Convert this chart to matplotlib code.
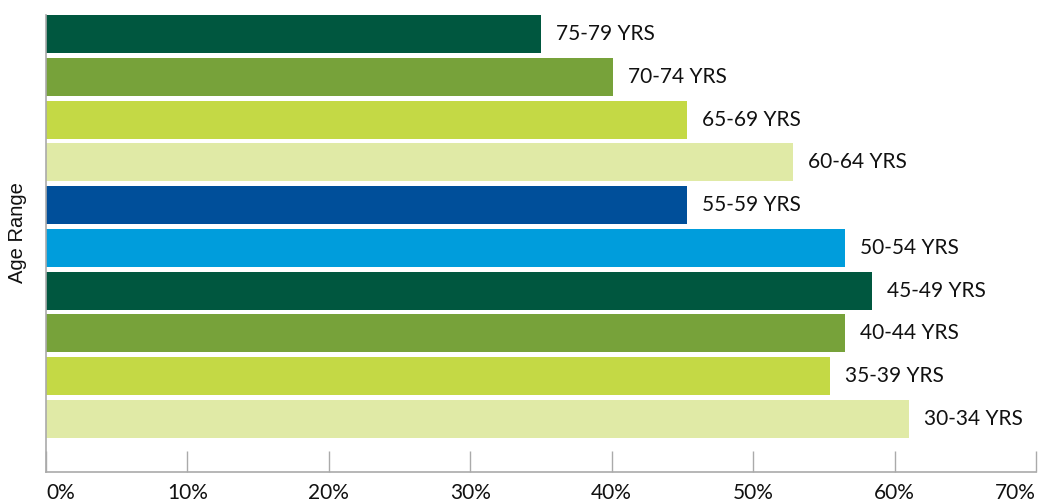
import matplotlib.pyplot as plt
import numpy as np

# age groups from bottom to top
ages = ['30-34 YRS', '35-39 YRS', '40-44 YRS', '45-49 YRS', '50-54 YRS',
        '55-59 YRS', '60-64 YRS', '65-69 YRS', '70-74 YRS', '75-79 YRS']
pct = [61.0, 55.4, 56.5, 58.4, 56.5, 45.3, 52.8, 45.3, 40.1, 35.0]
colors = ['#E0EAA6', '#C4D945', '#77A23A', '#00573F', '#009DDC',
          '#004F9A', '#E0EAA6', '#C4D945', '#77A23A', '#00573F']

fig = plt.figure(figsize=(10.41, 5.04), dpi=100)
ax = fig.add_axes([46 / 1041, 32 / 504, 990 / 1041, 457 / 504])

y = np.arange(len(ages))
h = 0.89
ax.barh(y, pct, height=h, color=colors)

for yi, v, lab in zip(y, pct, ages):
    ax.annotate(lab, (v, yi), xytext=(11, 0), textcoords='offset points',
                va='center', ha='left', fontsize=15, family='Lato', color='#111111')

ax.set_xlim(0, 70)
ax.set_ylim(-1.24, len(ages) - 1 + h / 2)
ax.set_yticks([])
xt = np.arange(0, 71, 10)
ax.set_xticks(xt)
ax.set_xticklabels([f'{t}%' for t in xt], fontsize=15, family='Lato', color='#111111')
labs = ax.get_xticklabels()
labs[0].set_ha('left')
labs[-1].set_ha('right')
ax.tick_params(axis='x', direction='in', length=15, color='#aaaaaa', width=1, pad=8)

for s in ['top', 'right']:
    ax.spines[s].set_visible(False)
for s in ['left', 'bottom']:
    ax.spines[s].set_color('#aaaaaa')
    ax.spines[s].set_linewidth(1.2)

fig.text(18 / 1041, 1 - 233 / 504, 'Age Range', rotation=90, va='center', ha='center',
         fontsize=14.5, family='Liberation Sans', color='#111111')

fig.savefig('out.png', dpi=100)
